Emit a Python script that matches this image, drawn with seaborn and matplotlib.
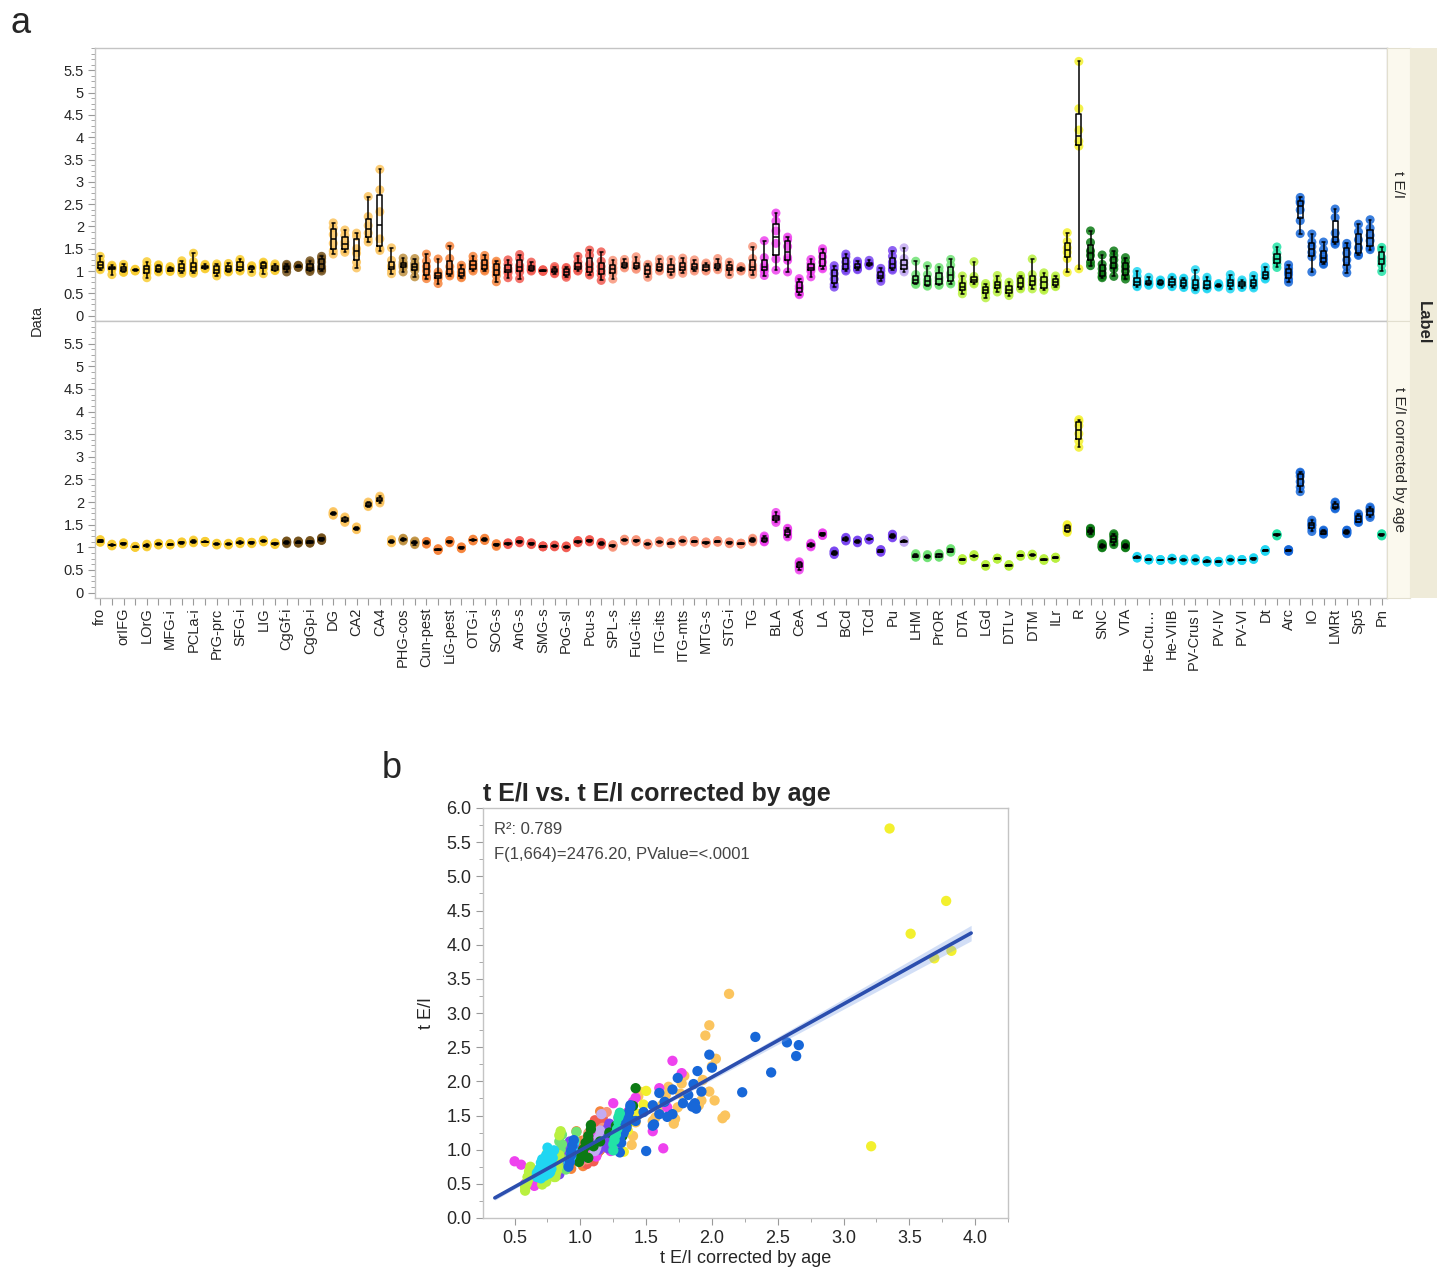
import numpy as np
import pandas as pd
import matplotlib
matplotlib.use("Agg")
import matplotlib.pyplot as plt
from matplotlib.ticker import AutoMinorLocator, MultipleLocator, FormatStrFormatter
import seaborn as sns

# ---- data -------------------------------------------------------------
# contiguous colour groups along the x axis (name, number of regions)
group_segments = [
    ("Frontal", 16), ("Cingulate", 4), ("Hippocampal", 6), ("Parahippocampal", 2),
    ("Occipital", 7), ("Parietal", 9), ("Temporal", 13), ("Amygdala", 6),
    ("Striatum", 6), ("Pallidum", 1), ("Hypothalamus", 4), ("Thalamus", 9),
    ("Epithalamus", 2), ("Midbrain", 4), ("Cerebellum", 12), ("Pons", 1),
    ("Medulla", 8), ("Pons", 1),
]

group_colors = {
    "Frontal": "#F8CD33", "Cingulate": "#74521C", "Hippocampal": "#FBC45E",
    "Parahippocampal": "#BF9140", "Occipital": "#F6853D", "Parietal": "#F25C52",
    "Temporal": "#F8957A", "Amygdala": "#EE42EE", "Striatum": "#7A46F0",
    "Pallidum": "#C3AAF2", "Hypothalamus": "#6FE274", "Thalamus": "#B9F040",
    "Epithalamus": "#F3F02E", "Midbrain": "#0C7A14", "Cerebellum": "#20D6F2",
    "Pons": "#22E2A6", "Medulla": "#1767D8",
}

# labels printed on every other tick
shown_labels = [
    "fro", "orIFG", "LOrG", "MFG-i", "PCLa-i", "PrG-prc", "SFG-i", "LIG", "CgGf-i",
    "CgGp-i", "DG", "CA2", "CA4", "PHG-cos", "Cun-pest", "LiG-pest", "OTG-i",
    "SOG-s", "AnG-s", "SMG-s", "PoG-sl", "Pcu-s", "SPL-s", "FuG-its", "ITG-its",
    "ITG-mts", "MTG-s", "STG-i", "TG", "BLA", "CeA", "LA", "BCd", "TCd", "Pu",
    "LHM", "PrOR", "DTA", "LGd", "DTLv", "DTM", "ILr", "R", "SNC", "VTA",
    "He-Cru…", "He-VIIB", "PV-Crus I", "PV-IV", "PV-VI", "Dt", "Arc", "IO",
    "LMRt", "Sp5", "Pn",
]

# t E/I, six subjects per region
te_raw = [
    [1.33, 1.22, 1.15, 1.10, 1.06, 1.03], [1.13, 1.10, 1.08, 1.06, 1.04, 0.92],
    [1.15, 1.11, 1.06, 1.02, 0.98, 0.97], [1.04, 1.03, 1.02, 1.02, 1.01, 1.00],
    [1.21, 1.13, 1.06, 1.01, 0.95, 0.85], [1.14, 1.12, 1.07, 1.03, 1.00, 0.98],
    [1.10, 1.08, 1.05, 1.03, 1.00, 0.99], [1.23, 1.17, 1.10, 1.04, 0.99, 0.95],
    [1.40, 1.21, 1.13, 1.06, 0.99, 0.95], [1.15, 1.13, 1.10, 1.08, 1.06, 1.05],
    [1.16, 1.12, 1.05, 1.00, 0.95, 0.89], [1.17, 1.12, 1.06, 1.02, 0.99, 0.98],
    [1.26, 1.22, 1.13, 1.06, 1.02, 1.00], [1.12, 1.10, 1.09, 1.07, 1.05, 0.97],
    [1.20, 1.18, 1.14, 1.10, 1.06, 0.94], [1.16, 1.13, 1.10, 1.05, 1.02, 1.01],
    [1.15, 1.12, 1.09, 1.07, 1.05, 0.98], [1.13, 1.12, 1.11, 1.10, 1.09, 1.08],
    [1.23, 1.18, 1.10, 1.05, 1.02, 0.99], [1.33, 1.28, 1.20, 1.10, 1.04, 1.00],
    [2.08, 1.97, 1.82, 1.62, 1.45, 1.38], [1.92, 1.80, 1.65, 1.58, 1.47, 1.42],
    [1.85, 1.78, 1.50, 1.40, 1.20, 1.07], [2.67, 2.22, 2.02, 1.85, 1.72, 1.65],
    [3.28, 2.82, 2.33, 1.72, 1.50, 1.46], [1.52, 1.24, 1.12, 1.08, 1.02, 0.94],
    [1.29, 1.20, 1.15, 1.12, 1.08, 0.98], [1.28, 1.17, 1.12, 1.07, 1.02, 0.87],
    [1.38, 1.22, 1.10, 1.00, 0.88, 0.83], [1.27, 0.98, 0.92, 0.88, 0.83, 0.72],
    [1.56, 1.28, 1.10, 0.98, 0.93, 0.89], [1.13, 1.08, 0.98, 0.92, 0.87, 0.85],
    [1.33, 1.24, 1.16, 1.10, 1.04, 1.00], [1.35, 1.28, 1.18, 1.10, 1.03, 1.00],
    [1.22, 1.18, 1.08, 0.98, 0.90, 0.76], [1.25, 1.15, 1.06, 1.00, 0.96, 0.85],
    [1.37, 1.28, 1.12, 1.05, 0.98, 0.83], [1.20, 1.12, 1.08, 1.05, 1.02, 1.00],
    [1.03, 1.02, 1.01, 1.01, 1.00, 0.99], [1.10, 1.06, 1.02, 0.99, 0.96, 0.94],
    [1.08, 1.06, 1.00, 0.96, 0.90, 0.86], [1.33, 1.20, 1.12, 1.08, 1.02, 1.00],
    [1.47, 1.35, 1.15, 1.05, 0.95, 0.91], [1.43, 1.22, 1.10, 1.00, 0.92, 0.79],
    [1.24, 1.17, 1.07, 1.00, 0.95, 0.82], [1.26, 1.20, 1.15, 1.12, 1.09, 1.07],
    [1.32, 1.20, 1.14, 1.10, 1.06, 1.04], [1.15, 1.12, 1.05, 0.98, 0.93, 0.86],
    [1.27, 1.17, 1.10, 1.06, 1.02, 1.00], [1.26, 1.15, 1.07, 1.02, 0.97, 0.92],
    [1.29, 1.20, 1.12, 1.06, 1.01, 0.95], [1.25, 1.17, 1.12, 1.08, 1.04, 1.00],
    [1.18, 1.15, 1.10, 1.06, 1.02, 1.00], [1.28, 1.17, 1.12, 1.10, 1.06, 1.03],
    [1.20, 1.14, 1.08, 1.04, 1.01, 0.92], [1.10, 1.07, 1.05, 1.04, 1.02, 1.00],
    [1.55, 1.28, 1.12, 1.05, 1.00, 0.92], [1.68, 1.30, 1.12, 1.06, 1.00, 0.90],
    [2.30, 2.12, 1.90, 1.62, 1.27, 1.02], [1.76, 1.70, 1.55, 1.30, 1.24, 0.98],
    [0.83, 0.78, 0.66, 0.60, 0.50, 0.47], [1.26, 1.17, 1.10, 1.05, 1.00, 0.87],
    [1.50, 1.44, 1.32, 1.20, 1.08, 1.05], [1.12, 1.05, 0.94, 0.82, 0.70, 0.64],
    [1.38, 1.32, 1.20, 1.10, 1.03, 1.00], [1.22, 1.18, 1.12, 1.08, 1.05, 1.03],
    [1.24, 1.18, 1.16, 1.15, 1.14, 1.12], [1.06, 1.00, 0.92, 0.88, 0.83, 0.77],
    [1.46, 1.33, 1.20, 1.12, 1.05, 1.02], [1.52, 1.28, 1.18, 1.08, 1.02, 0.98],
    [1.22, 0.92, 0.82, 0.76, 0.72, 0.70], [1.12, 0.92, 0.80, 0.74, 0.68, 0.66],
    [1.08, 1.00, 0.85, 0.78, 0.70, 0.68], [1.26, 1.13, 0.95, 0.88, 0.74, 0.71],
    [0.89, 0.75, 0.68, 0.62, 0.57, 0.49], [1.21, 0.88, 0.82, 0.80, 0.74, 0.71],
    [0.72, 0.67, 0.60, 0.55, 0.50, 0.40], [0.90, 0.78, 0.72, 0.66, 0.62, 0.53],
    [0.75, 0.68, 0.60, 0.55, 0.50, 0.45], [0.90, 0.86, 0.78, 0.70, 0.63, 0.60],
    [1.27, 0.92, 0.82, 0.75, 0.68, 0.60], [0.96, 0.90, 0.80, 0.70, 0.60, 0.57],
    [0.89, 0.84, 0.78, 0.74, 0.67, 0.65], [1.86, 1.66, 1.52, 1.42, 1.28, 0.97],
    [5.70, 4.64, 4.16, 3.91, 3.80, 1.05], [1.90, 1.64, 1.45, 1.35, 1.20, 1.12],
    [1.36, 1.15, 1.05, 0.95, 0.88, 0.85], [1.45, 1.35, 1.25, 1.12, 1.05, 0.88],
    [1.30, 1.20, 1.10, 1.00, 0.88, 0.82], [0.99, 0.88, 0.78, 0.72, 0.67, 0.65],
    [0.86, 0.78, 0.74, 0.72, 0.70, 0.68], [0.80, 0.78, 0.75, 0.72, 0.70, 0.69],
    [0.86, 0.84, 0.77, 0.72, 0.67, 0.65], [0.84, 0.82, 0.75, 0.70, 0.65, 0.63],
    [1.03, 0.82, 0.72, 0.66, 0.62, 0.58], [0.86, 0.81, 0.72, 0.66, 0.62, 0.60],
    [0.72, 0.70, 0.68, 0.67, 0.66, 0.64], [0.92, 0.82, 0.76, 0.70, 0.66, 0.60],
    [0.80, 0.76, 0.72, 0.68, 0.65, 0.63], [0.90, 0.82, 0.76, 0.70, 0.65, 0.62],
    [1.09, 1.00, 0.94, 0.90, 0.84, 0.82], [1.54, 1.40, 1.30, 1.24, 1.16, 1.08],
    [1.14, 1.06, 0.98, 0.92, 0.82, 0.75], [2.65, 2.57, 2.53, 2.37, 2.13, 1.84],
    [1.83, 1.65, 1.55, 1.42, 1.32, 0.98], [1.65, 1.48, 1.34, 1.26, 1.17, 1.15],
    [2.39, 2.20, 1.85, 1.68, 1.63, 1.60], [1.62, 1.55, 1.40, 1.25, 1.10, 0.96],
    [2.05, 1.88, 1.70, 1.52, 1.37, 1.35], [2.15, 1.96, 1.80, 1.68, 1.52, 1.48],
    [1.53, 1.48, 1.30, 1.22, 1.14, 0.99],
]

# t E/I corrected by age, same subjects in the same order
te_corr = [
    [1.17, 1.16, 1.14, 1.13, 1.12, 1.11], [1.07, 1.06, 1.05, 1.05, 1.04, 1.03],
    [1.10, 1.09, 1.08, 1.07, 1.06, 1.06], [1.02, 1.02, 1.01, 1.01, 1.00, 1.00],
    [1.07, 1.06, 1.05, 1.04, 1.02, 1.01], [1.09, 1.08, 1.07, 1.07, 1.06, 1.05],
    [1.08, 1.08, 1.07, 1.06, 1.06, 1.05], [1.12, 1.11, 1.10, 1.10, 1.09, 1.08],
    [1.16, 1.14, 1.13, 1.12, 1.11, 1.10], [1.13, 1.13, 1.12, 1.12, 1.11, 1.11],
    [1.09, 1.08, 1.07, 1.07, 1.06, 1.05], [1.09, 1.08, 1.07, 1.07, 1.06, 1.05],
    [1.13, 1.12, 1.11, 1.10, 1.09, 1.08], [1.11, 1.11, 1.10, 1.10, 1.09, 1.08],
    [1.16, 1.15, 1.14, 1.14, 1.13, 1.12], [1.10, 1.09, 1.08, 1.08, 1.07, 1.06],
    [1.14, 1.13, 1.12, 1.11, 1.10, 1.08], [1.14, 1.13, 1.12, 1.11, 1.10, 1.09],
    [1.15, 1.14, 1.12, 1.11, 1.10, 1.09], [1.21, 1.20, 1.18, 1.17, 1.16, 1.15],
    [1.79, 1.77, 1.76, 1.74, 1.72, 1.71], [1.67, 1.65, 1.62, 1.60, 1.57, 1.55],
    [1.45, 1.44, 1.43, 1.42, 1.40, 1.39], [1.95, 2.00, 1.93, 1.98, 1.92, 1.90],
    [2.13, 1.98, 2.03, 2.02, 2.10, 2.08], [1.17, 1.15, 1.13, 1.12, 1.11, 1.10],
    [1.20, 1.19, 1.18, 1.17, 1.16, 1.14], [1.14, 1.12, 1.11, 1.10, 1.08, 1.06],
    [1.13, 1.12, 1.11, 1.10, 1.08, 1.07], [0.97, 0.96, 0.95, 0.95, 0.94, 0.93],
    [1.15, 1.14, 1.13, 1.12, 1.11, 1.10], [1.01, 1.00, 0.99, 0.99, 0.98, 0.97],
    [1.18, 1.17, 1.16, 1.16, 1.15, 1.14], [1.20, 1.19, 1.18, 1.17, 1.16, 1.15],
    [1.08, 1.07, 1.06, 1.05, 1.04, 1.02], [1.10, 1.09, 1.08, 1.08, 1.07, 1.06],
    [1.15, 1.14, 1.13, 1.12, 1.11, 1.10], [1.10, 1.09, 1.08, 1.08, 1.07, 1.06],
    [1.03, 1.03, 1.02, 1.02, 1.01, 1.01], [1.05, 1.04, 1.03, 1.03, 1.02, 1.01],
    [1.03, 1.02, 1.01, 1.01, 1.00, 0.99], [1.15, 1.14, 1.13, 1.12, 1.11, 1.10],
    [1.17, 1.16, 1.15, 1.14, 1.13, 1.12], [1.11, 1.10, 1.09, 1.08, 1.07, 1.05],
    [1.06, 1.05, 1.04, 1.03, 1.02, 1.00], [1.18, 1.17, 1.16, 1.16, 1.15, 1.14],
    [1.17, 1.16, 1.15, 1.14, 1.13, 1.12], [1.09, 1.08, 1.07, 1.07, 1.06, 1.05],
    [1.14, 1.13, 1.12, 1.12, 1.11, 1.10], [1.11, 1.10, 1.09, 1.09, 1.08, 1.07],
    [1.16, 1.15, 1.14, 1.14, 1.13, 1.12], [1.15, 1.14, 1.13, 1.13, 1.12, 1.11],
    [1.12, 1.11, 1.10, 1.10, 1.09, 1.08], [1.15, 1.14, 1.13, 1.13, 1.12, 1.11],
    [1.12, 1.11, 1.10, 1.10, 1.09, 1.08], [1.09, 1.09, 1.08, 1.08, 1.07, 1.07],
    [1.20, 1.18, 1.16, 1.15, 1.14, 1.12], [1.25, 1.22, 1.19, 1.16, 1.13, 1.12],
    [1.70, 1.77, 1.60, 1.66, 1.55, 1.63], [1.42, 1.40, 1.36, 1.30, 1.26, 1.23],
    [0.50, 0.55, 0.68, 0.62, 0.58, 0.65], [1.09, 1.07, 1.06, 1.05, 1.03, 1.01],
    [1.32, 1.31, 1.30, 1.28, 1.27, 1.26], [0.92, 0.91, 0.89, 0.87, 0.85, 0.84],
    [1.22, 1.21, 1.19, 1.17, 1.15, 1.14], [1.16, 1.15, 1.14, 1.13, 1.11, 1.10],
    [1.20, 1.19, 1.18, 1.18, 1.17, 1.16], [0.95, 0.94, 0.93, 0.92, 0.90, 0.89],
    [1.29, 1.28, 1.26, 1.24, 1.22, 1.21], [1.16, 1.15, 1.14, 1.13, 1.12, 1.11],
    [0.86, 0.84, 0.82, 0.81, 0.79, 0.78], [0.84, 0.82, 0.81, 0.79, 0.78, 0.77],
    [0.86, 0.85, 0.83, 0.81, 0.79, 0.78], [0.97, 0.96, 0.94, 0.92, 0.90, 0.89],
    [0.75, 0.74, 0.73, 0.73, 0.72, 0.71], [0.84, 0.82, 0.81, 0.81, 0.80, 0.79],
    [0.62, 0.61, 0.60, 0.60, 0.59, 0.58], [0.76, 0.76, 0.75, 0.75, 0.74, 0.74],
    [0.62, 0.61, 0.60, 0.60, 0.59, 0.58], [0.84, 0.83, 0.82, 0.82, 0.81, 0.80],
    [0.85, 0.84, 0.83, 0.83, 0.82, 0.81], [0.75, 0.74, 0.73, 0.73, 0.72, 0.71],
    [0.78, 0.78, 0.77, 0.77, 0.76, 0.76], [1.50, 1.48, 1.44, 1.40, 1.36, 1.33],
    [3.35, 3.78, 3.51, 3.82, 3.69, 3.21], [1.42, 1.40, 1.37, 1.35, 1.32, 1.30],
    [1.08, 1.06, 1.04, 1.02, 1.00, 0.99], [1.30, 1.27, 1.22, 1.15, 1.10, 1.06],
    [1.08, 1.06, 1.04, 1.02, 1.00, 0.99], [0.80, 0.79, 0.78, 0.78, 0.77, 0.76],
    [0.75, 0.74, 0.73, 0.73, 0.72, 0.72], [0.73, 0.73, 0.72, 0.72, 0.71, 0.71],
    [0.76, 0.75, 0.74, 0.74, 0.73, 0.72], [0.74, 0.73, 0.72, 0.72, 0.71, 0.70],
    [0.75, 0.73, 0.72, 0.72, 0.71, 0.70], [0.71, 0.70, 0.69, 0.69, 0.68, 0.67],
    [0.69, 0.69, 0.68, 0.68, 0.67, 0.67], [0.74, 0.73, 0.72, 0.72, 0.71, 0.70],
    [0.73, 0.73, 0.72, 0.72, 0.71, 0.71], [0.77, 0.76, 0.75, 0.75, 0.74, 0.73],
    [0.95, 0.94, 0.93, 0.93, 0.92, 0.91], [1.30, 1.29, 1.28, 1.27, 1.26, 1.25],
    [0.95, 0.94, 0.93, 0.93, 0.92, 0.91], [2.33, 2.57, 2.66, 2.64, 2.45, 2.23],
    [1.60, 1.55, 1.48, 1.42, 1.35, 1.50], [1.38, 1.36, 1.34, 1.32, 1.30, 1.29],
    [1.98, 2.00, 1.92, 1.87, 1.85, 1.88], [1.38, 1.37, 1.35, 1.33, 1.31, 1.30],
    [1.74, 1.70, 1.64, 1.60, 1.56, 1.55], [1.89, 1.86, 1.82, 1.78, 1.70, 1.66],
    [1.30, 1.29, 1.28, 1.27, 1.26, 1.25],
]

stats_lines = ["R²: 0.789", "F(1,664)=2476.20, PValue=<.0001"]

# ---- long table ---------------------------------------------------------
n_regions = len(te_raw)
positions = list(range(n_regions))
pos_group = [name for name, n in group_segments for _ in range(n)]
tick_labels = [shown_labels[i // 2] if i % 2 == 0 else "" for i in positions]

rows = []
for i in positions:
    for r, c in zip(te_raw[i], te_corr[i]):
        rows.append({"pos": i, "group": pos_group[i], "raw": r, "corr": c})
df = pd.DataFrame(rows)

# ---- style --------------------------------------------------------------
sns.set_style("white")
plt.rcParams["font.family"] = ["Liberation Sans", "DejaVu Sans"]
SPINE = "#C4C4C4"
TICK = "#9A9A9A"
LINE_BLUE = "#2B4EAE"

W, H = 1442, 1277
fig = plt.figure(figsize=(W / 100, H / 100), dpi=100)


def px_axes(x0, y0, x1, y1):
    return fig.add_axes([x0 / W, 1 - y1 / H, (x1 - x0) / W, (y1 - y0) / H])


def draw_box_panel(ax, col):
    sns.stripplot(data=df, x="pos", y=col, hue="group", palette=group_colors,
                  order=positions, jitter=False, size=6.5, alpha=0.85,
                  linewidth=0, legend=False, ax=ax, zorder=1)
    sns.boxplot(data=df, x="pos", y=col, order=positions, fill=False,
                color="black", linecolor="black", width=0.45, whis=(0, 100),
                showfliers=False, linewidth=1.1, ax=ax)
    ax.set_xlim(-0.45, n_regions - 0.55)
    ax.set_ylim(-0.12, 6.0)
    ax.set_yticks(np.arange(0, 5.51, 0.5))
    ax.yaxis.set_major_formatter(FormatStrFormatter("%g"))
    ax.yaxis.set_minor_locator(AutoMinorLocator(4))
    ax.set_xlabel("")
    ax.set_ylabel("")
    for s in ax.spines.values():
        s.set_color(SPINE)
        s.set_linewidth(1)
    ax.tick_params(axis="y", which="major", left=True, length=5, color=TICK,
                   labelsize=10.5, pad=3)
    ax.tick_params(axis="y", which="minor", left=True, length=3, color=TICK)


# ---- panel a ------------------------------------------------------------
ax_top = px_axes(95, 48, 1387, 321)
ax_bot = px_axes(95, 321, 1387, 598)
draw_box_panel(ax_top, "raw")
draw_box_panel(ax_bot, "corr")

ax_top.tick_params(axis="x", bottom=False, labelbottom=False)
ax_bot.set_xticks(positions)
ax_bot.set_xticklabels(tick_labels, rotation=90, fontsize=10.5)
ax_bot.tick_params(axis="x", bottom=True, length=5, color=TICK, pad=2)

fig.text(37 / W, 1 - 320 / H, "Data", rotation=90, ha="center", va="center",
         fontsize=10.5)

# facet strips on the right
for (y0, y1, txt) in [(48, 321, "t E/I"), (321, 598, "t E/I corrected by age")]:
    sax = px_axes(1387, y0, 1410, y1)
    sax.set_facecolor("#FBF9EE")
    sax.set_xticks([])
    sax.set_yticks([])
    for s in sax.spines.values():
        s.set_color("#E2DFCF")
    sax.text(0.5, 0.5, txt, rotation=270, ha="center", va="center",
             fontsize=11, transform=sax.transAxes)
lax = px_axes(1410, 48, 1437, 598)
lax.set_facecolor("#EFEBD9")
lax.set_xticks([])
lax.set_yticks([])
for s in lax.spines.values():
    s.set_visible(False)
lax.text(0.5, 0.5, "Label", rotation=270, ha="center", va="center",
         fontsize=12, fontweight="bold", transform=lax.transAxes)

fig.text(10 / W, 1 - 33 / H, "a", fontsize=26, va="baseline")

# ---- panel b ------------------------------------------------------------
ax_sc = px_axes(483, 808, 1008, 1218)
sns.scatterplot(data=df, x="corr", y="raw", hue="group", palette=group_colors,
                s=55, linewidth=0, legend=False, ax=ax_sc, zorder=2)
fit_lo, fit_hi = 0.35, 3.97
ax_sc.set_xlim(fit_lo, fit_hi)
sns.regplot(data=df, x="corr", y="raw", scatter=False, ci=None, truncate=False,
            color=LINE_BLUE, line_kws={"lw": 2.6, "zorder": 4}, ax=ax_sc)

# analytic 95% confidence band of the least-squares fit
xv = df["corr"].to_numpy()
yv = df["raw"].to_numpy()
slope, intercept = np.polyfit(xv, yv, 1)
n_obs = len(xv)
resid = yv - (intercept + slope * xv)
s_err = np.sqrt(np.sum(resid ** 2) / (n_obs - 2))
sxx = np.sum((xv - xv.mean()) ** 2)
grid = np.linspace(fit_lo, fit_hi, 100)
fit = intercept + slope * grid
half = 1.964 * s_err * np.sqrt(1 / n_obs + (grid - xv.mean()) ** 2 / sxx)
ax_sc.fill_between(grid, fit - half, fit + half, color="#7FA3E8", alpha=0.35,
                   linewidth=0, zorder=3)

ax_sc.set_xlim(0.26, 4.25)
ax_sc.set_ylim(0, 6.0)
ax_sc.xaxis.set_major_locator(MultipleLocator(0.5))
ax_sc.xaxis.set_minor_locator(MultipleLocator(0.25))
ax_sc.yaxis.set_major_locator(MultipleLocator(0.5))
ax_sc.yaxis.set_minor_locator(MultipleLocator(0.25))
ax_sc.xaxis.set_major_formatter(FormatStrFormatter("%.1f"))
ax_sc.yaxis.set_major_formatter(FormatStrFormatter("%.1f"))
ax_sc.set_xticks(np.arange(0.5, 4.01, 0.5))
ax_sc.tick_params(which="major", length=5, color=TICK, labelsize=13,
                  bottom=True, left=True)
ax_sc.tick_params(which="minor", length=3, color=TICK, bottom=True, left=True)
for s in ax_sc.spines.values():
    s.set_color(SPINE)
    s.set_linewidth(1)
ax_sc.set_xlabel("t E/I corrected by age", fontsize=13, labelpad=2)
ax_sc.set_ylabel("t E/I", fontsize=13, labelpad=8)
ax_sc.set_title("t E/I vs. t E/I corrected by age", loc="left", fontsize=18,
                fontweight="bold", pad=5)
ax_sc.text(0.021, 0.965, stats_lines[0], transform=ax_sc.transAxes,
           fontsize=12, color="#444444", va="top")
ax_sc.text(0.021, 0.905, stats_lines[1], transform=ax_sc.transAxes,
           fontsize=12, color="#444444", va="top")

fig.text(382 / W, 1 - 778 / H, "b", fontsize=26, va="baseline")

fig.savefig("out.png", dpi=100)
